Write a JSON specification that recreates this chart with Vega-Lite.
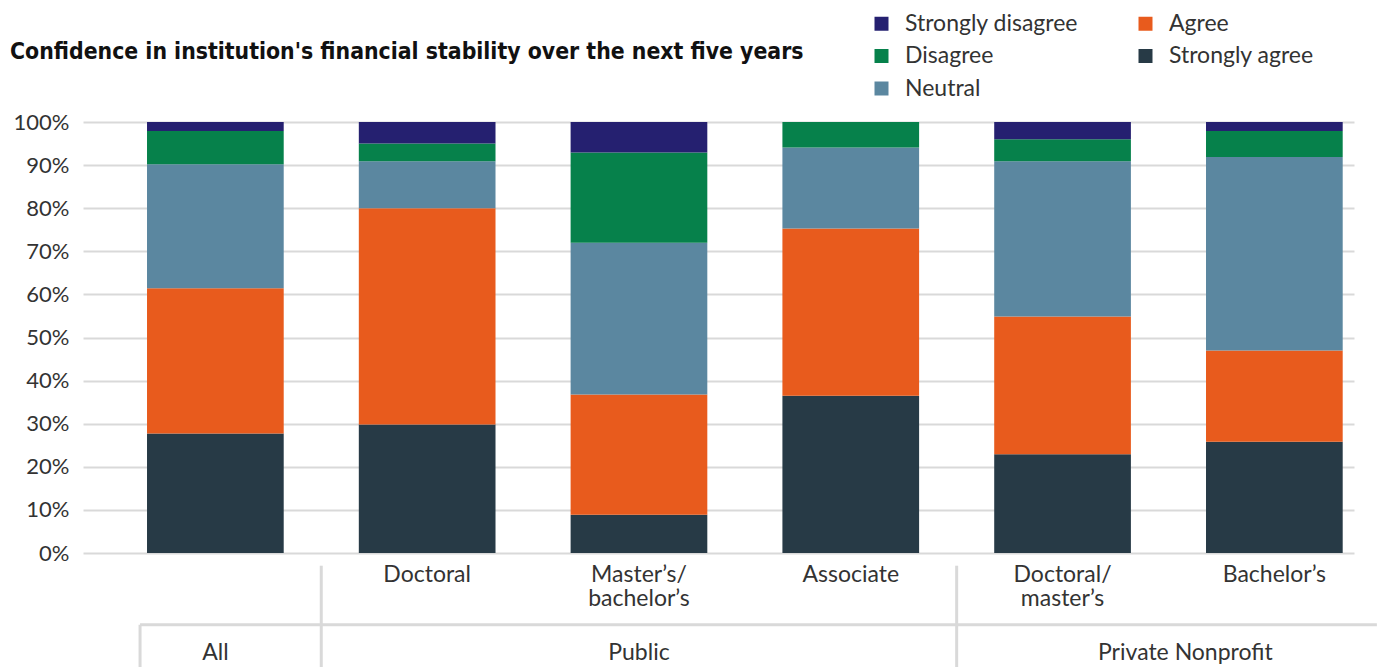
{
  "$schema": "https://vega.github.io/schema/vega-lite/v6.json",
  "autosize": {"type": "none"},
  "width": 1271,
  "height": 431,
  "padding": {"left": 83, "top": 122, "right": 23, "bottom": 114},
  "background": "white",
  "config": {
    "view": {"stroke": null},
    "font": "Lato",
    "text": {"font": "Lato", "fontSize": 23, "color": "#333333"},
    "axis": {"labelFont": "Lato", "labelFontSize": 23, "labelColor": "#333333"},
    "legend": {"labelFont": "Lato", "labelFontSize": 23, "labelColor": "#333333"}
  },
  "title": {
    "text": "Confidence in institution's financial stability over the next five years",
    "anchor": "start",
    "frame": "group",
    "font": "DejaVu Sans Condensed",
    "fontWeight": "bold",
    "fontSize": 22.8,
    "color": "#111111",
    "dx": -73,
    "offset": -52
  },
  "data": {
    "values": [
      {"cat": "All", "resp": "Strongly agree", "k": 1, "v": 0.277},
      {"cat": "All", "resp": "Agree", "k": 2, "v": 0.337},
      {"cat": "All", "resp": "Neutral", "k": 3, "v": 0.288},
      {"cat": "All", "resp": "Disagree", "k": 4, "v": 0.077},
      {"cat": "All", "resp": "Strongly disagree", "k": 5, "v": 0.021},
      {"cat": "Doctoral", "resp": "Strongly agree", "k": 1, "v": 0.298},
      {"cat": "Doctoral", "resp": "Agree", "k": 2, "v": 0.502},
      {"cat": "Doctoral", "resp": "Neutral", "k": 3, "v": 0.109},
      {"cat": "Doctoral", "resp": "Disagree", "k": 4, "v": 0.041},
      {"cat": "Doctoral", "resp": "Strongly disagree", "k": 5, "v": 0.050},
      {"cat": "Master’s/bachelor’s", "resp": "Strongly agree", "k": 1, "v": 0.089},
      {"cat": "Master’s/bachelor’s", "resp": "Agree", "k": 2, "v": 0.279},
      {"cat": "Master’s/bachelor’s", "resp": "Neutral", "k": 3, "v": 0.352},
      {"cat": "Master’s/bachelor’s", "resp": "Disagree", "k": 4, "v": 0.209},
      {"cat": "Master’s/bachelor’s", "resp": "Strongly disagree", "k": 5, "v": 0.071},
      {"cat": "Associate", "resp": "Strongly agree", "k": 1, "v": 0.365},
      {"cat": "Associate", "resp": "Agree", "k": 2, "v": 0.388},
      {"cat": "Associate", "resp": "Neutral", "k": 3, "v": 0.188},
      {"cat": "Associate", "resp": "Disagree", "k": 4, "v": 0.059},
      {"cat": "Associate", "resp": "Strongly disagree", "k": 5, "v": 0.0},
      {"cat": "Doctoral/master’s", "resp": "Strongly agree", "k": 1, "v": 0.229},
      {"cat": "Doctoral/master’s", "resp": "Agree", "k": 2, "v": 0.320},
      {"cat": "Doctoral/master’s", "resp": "Neutral", "k": 3, "v": 0.360},
      {"cat": "Doctoral/master’s", "resp": "Disagree", "k": 4, "v": 0.051},
      {"cat": "Doctoral/master’s", "resp": "Strongly disagree", "k": 5, "v": 0.040},
      {"cat": "Bachelor’s", "resp": "Strongly agree", "k": 1, "v": 0.258},
      {"cat": "Bachelor’s", "resp": "Agree", "k": 2, "v": 0.212},
      {"cat": "Bachelor’s", "resp": "Neutral", "k": 3, "v": 0.449},
      {"cat": "Bachelor’s", "resp": "Disagree", "k": 4, "v": 0.060},
      {"cat": "Bachelor’s", "resp": "Strongly disagree", "k": 5, "v": 0.021}
    ]
  },
  "layer": [
    {
      "mark": {"type": "bar"},
      "encoding": {
        "x": {
          "field": "cat",
          "type": "nominal",
          "sort": null,
          "title": null,
          "scale": {"paddingInner": 0.3546, "paddingOuter": 0.1778, "align": 0.85},
          "axis": {
            "domain": false,
            "ticks": false,
            "labelAngle": 0,
            "labelPadding": 10,
            "labelBaseline": "top",
            "labelLineHeight": 24,
            "labelExpr": "datum.label == 'All' ? '' : split(replace(datum.label, '/', '/@'), '@')"
          }
        },
        "y": {
          "field": "v",
          "type": "quantitative",
          "stack": "zero",
          "title": null,
          "scale": {"domain": [0, 1], "nice": false, "zero": false},
          "axis": {
            "values": [0, 0.1, 0.2, 0.3, 0.4, 0.5, 0.6, 0.7, 0.8, 0.9, 1],
            "format": ".0%",
            "domain": false,
            "ticks": false,
            "labelFontSize": 22,
            "labelPadding": 14,
            "gridColor": "#d9d9d9",
            "gridWidth": 2
          }
        },
        "color": {
          "field": "resp",
          "type": "nominal",
          "scale": {
            "domain": ["Strongly disagree", "Disagree", "Neutral", "Agree", "Strongly agree"],
            "range": ["#252070", "#06814B", "#5B87A0", "#E85B1D", "#273A46"]
          },
          "legend": {
            "title": null,
            "orient": "none",
            "legendX": 787,
            "legendY": -110,
            "columns": 2,
            "columnPadding": 55,
            "rowPadding": 8.5,
            "labelLimit": 400,
            "symbolType": "square",
            "symbolSize": 196,
            "symbolStrokeWidth": 0,
            "labelOffset": 12
          }
        },
        "order": {"field": "k", "type": "quantitative"}
      }
    },
    {
      "data": {"values": [{"group": "All", "cat": "All"}, {"group": "Public", "cat": "Master’s/bachelor’s"}]},
      "mark": {"type": "text", "baseline": "alphabetic", "align": "center"},
      "encoding": {
        "x": {"field": "cat", "type": "nominal", "sort": null},
        "y": {"datum": -0.248, "type": "quantitative"},
        "text": {"field": "group"}
      }
    },
    {
      "data": {"values": [{"group": "Private Nonprofit", "cat": "Bachelor’s"}]},
      "mark": {"type": "text", "baseline": "alphabetic", "align": "center", "dx": -89},
      "encoding": {
        "x": {"field": "cat", "type": "nominal", "sort": null},
        "y": {"datum": -0.248, "type": "quantitative"},
        "text": {"field": "group"}
      }
    },
    {
      "data": {"values": [{"cat": "Doctoral"}, {"cat": "Doctoral/master’s"}]},
      "mark": {"type": "rule", "color": "#d9d9d9", "strokeWidth": 3},
      "encoding": {
        "x": {"field": "cat", "type": "nominal", "sort": null, "bandPosition": -0.2747},
        "y": {"datum": -0.0295, "type": "quantitative"},
        "y2": {"datum": -0.266}
      }
    },
    {
      "data": {"values": [{}]},
      "mark": {"type": "rule", "color": "#d9d9d9", "strokeWidth": 3},
      "encoding": {
        "x": {"datum": "All", "type": "nominal", "bandPosition": -0.051},
        "y": {"datum": -0.1665, "type": "quantitative"},
        "y2": {"datum": -0.266}
      }
    },
    {
      "data": {"values": [{}]},
      "mark": {"type": "rule", "color": "#d9d9d9", "strokeWidth": 3},
      "encoding": {
        "x": {"datum": "All", "type": "nominal", "bandPosition": -0.051},
        "x2": {"datum": "Bachelor’s", "bandPosition": 1.25},
        "y": {"datum": -0.1665, "type": "quantitative"}
      }
    }
  ]
}
